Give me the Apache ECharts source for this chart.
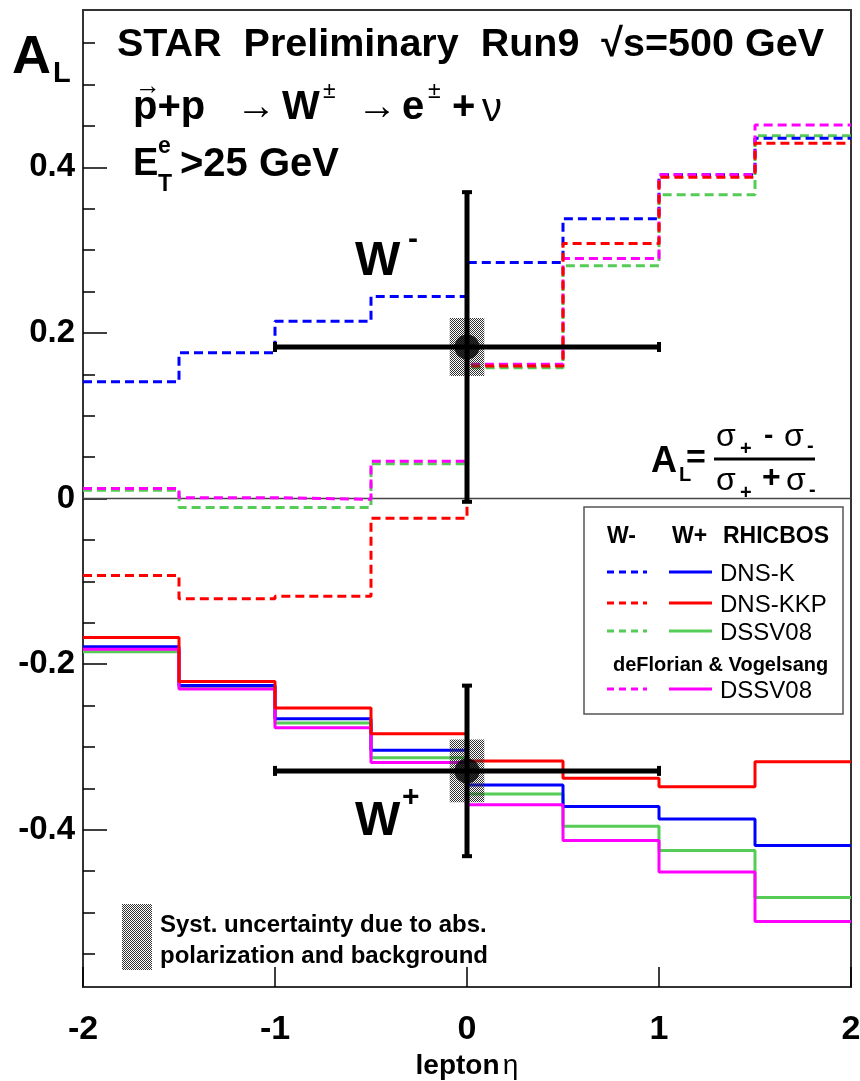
<!DOCTYPE html>
<html>
<head>
<meta charset="utf-8">
<script src="https://cdn.jsdelivr.net/npm/echarts@6/dist/echarts.min.js"></script>
<style>
  html, body { margin: 0; padding: 0; background: #fff; }
  #main { width: 860px; height: 1081px; }
</style>
</head>
<body>
<div id="main"></div>
<script>
// lepton eta bin edges (8 bins of 0.5)
const etaEdges = [-2, -1.5, -1, -0.5, 0, 0.5, 1, 1.5, 2];

// W- predictions, RHICBOS + deFlorian&Vogelsang (dashed)
const wmDnsK   = [0.141, 0.176, 0.214, 0.244, 0.285, 0.338, 0.391, 0.435];
const wmDnsKkp = [-0.093, -0.121, -0.118, -0.024, 0.160, 0.308, 0.388, 0.429];
const wmDssv   = [0.010, -0.011, -0.011, 0.042, 0.158, 0.281, 0.367, 0.438];
const wmDssvFV = [0.012, 0.001, -0.001, 0.045, 0.162, 0.290, 0.391, 0.451];

// W+ predictions (solid)
const wpDnsK   = [-0.179, -0.226, -0.266, -0.304, -0.346, -0.372, -0.387, -0.419];
const wpDnsKkp = [-0.168, -0.221, -0.253, -0.284, -0.317, -0.338, -0.348, -0.318];
const wpDssv   = [-0.185, -0.228, -0.271, -0.313, -0.357, -0.396, -0.425, -0.482];
const wpDssvFV = [-0.182, -0.230, -0.277, -0.319, -0.370, -0.413, -0.451, -0.511];

// STAR points: W-, W+
const dataEta = [0, 0];
const dataAL  = [0.183, -0.329];
const etaErr  = [1, 1];
const statErr = [0.187, 0.103];
const sysEta  = [0.09, 0.09];
const sysErr  = [0.035, 0.038];

// axis ticks
const xTicks = [-2, -1, 0, 1, 2];
const yTicks = [-0.4, -0.2, 0, 0.2, 0.4];
const yMinor = [-0.55, -0.5, -0.45, -0.35, -0.3, -0.25, -0.15, -0.1, -0.05,
                0.05, 0.1, 0.15, 0.25, 0.3, 0.35, 0.45, 0.5, 0.55];

const BLUE = "#0000ff", RED = "#ff0000", GREEN = "#55cc55", MAG = "#ff00ff";
const F = "'Liberation Sans', Arial, Helvetica, sans-serif";

// checker pattern for the syst. boxes
const hatch = document.createElement("canvas");
hatch.width = 2;
hatch.height = 2;
const hctx = hatch.getContext("2d");
hctx.fillStyle = "#333";
hctx.fillRect(0, 0, 1, 1);
hctx.fillRect(1, 1, 1, 1);
const hatchFill = { image: hatch, repeat: "repeat" };

function steps(vals) {
  return etaEdges.map((x, i) => [x, vals[Math.min(i, vals.length - 1)]]);
}
function hist(vals, color, dashed) {
  return {
    type: "line",
    data: steps(vals),
    step: "end",
    symbol: "none",
    silent: true,
    z: 2,
    lineStyle: { color: color, width: 3, type: dashed ? [9, 5] : "solid" },
  };
}

// little text helper for the graphic layer
function txt(x, y, s, size, bold) {
  return {
    type: "text",
    x: x,
    y: y,
    z: 100,
    style: {
      text: s,
      font: (bold ? "bold " : "") + size + "px " + F,
      fill: "#000",
      textAlign: "left",
      textVerticalAlign: "middle",
      align: "left",
      verticalAlign: "middle",
    },
  };
}
function seg(x1, y1, x2, y2, color, w, dash) {
  return {
    type: "line",
    z: 100,
    shape: { x1: x1, y1: y1, x2: x2, y2: y2 },
    style: { stroke: color, lineWidth: w, lineDash: dash || null },
  };
}

var myChart = echarts.init(document.getElementById("main"));

var option = {
  animation: false,
  grid: {
    left: 83, right: 9, top: 10, bottom: 94,
    containLabel: false,
    outerBoundsMode: "none",
    show: true, borderColor: "#333", borderWidth: 2,
  },
  xAxis: {
    type: "value",
    min: -2, max: 2, interval: 1,
    axisLine: { show: true, onZero: false, lineStyle: { color: "#333", width: 2 } },
    axisTick: { inside: true, length: 20, lineStyle: { color: "#000", width: 1.5 } },
    axisLabel: {
      color: "#000", fontSize: 34, fontWeight: "bold", fontFamily: F, margin: 26,
      customValues: xTicks,
    },
    splitLine: { show: false },
    name: "{b|lepton} {n|η}",
    nameLocation: "middle",
    nameGap: 64,
    nameTextStyle: {
      rich: {
        b: { fontSize: 28, fontWeight: "bold", fontFamily: F, color: "#000" },
        n: { fontSize: 28, fontFamily: F, color: "#000" },
      },
    },
  },
  yAxis: [
    {
      type: "value",
      min: -0.59, max: 0.59,
      axisLine: { show: true, onZero: false, lineStyle: { color: "#333", width: 2 } },
      axisTick: { inside: true, length: 24, customValues: yTicks, lineStyle: { color: "#000", width: 1.5 } },
      axisLabel: {
        color: "#000", fontSize: 33, fontWeight: "bold", fontFamily: F, margin: 8,
        customValues: yTicks,
        formatter: (v) => (Math.abs(v) < 1e-9 ? "0" : String(Math.round(v * 10) / 10)),
      },
      splitLine: { show: false },
    },
    {
      type: "value",
      min: -0.59, max: 0.59,
      position: "left",
      axisLine: { show: false, onZero: false },
      axisLabel: { show: false },
      axisTick: { inside: true, length: 12, customValues: yMinor, lineStyle: { color: "#000", width: 1.5 } },
      splitLine: { show: false },
    },
  ],
  series: [
    // zero line
    {
      type: "line", data: [[-2, 0], [2, 0]], symbol: "none", silent: true, z: 1,
      lineStyle: { color: "#444", width: 1.5 },
    },
    hist(wmDssv, GREEN, true),
    hist(wmDnsK, BLUE, true),
    hist(wmDssvFV, MAG, true),
    hist(wmDnsKkp, RED, true),
    hist(wpDssv, GREEN, false),
    hist(wpDnsK, BLUE, false),
    hist(wpDssvFV, MAG, false),
    hist(wpDnsKkp, RED, false),
    // syst. boxes
    {
      type: "custom", z: 3, silent: true,
      data: dataEta.map((x, i) => [x, dataAL[i], sysEta[i], sysErr[i]]),
      renderItem: (params, api) => {
        const x = api.value(0), y = api.value(1), sx = api.value(2), sy = api.value(3);
        const p1 = api.coord([x - sx, y + sy]);
        const p2 = api.coord([x + sx, y - sy]);
        return {
          type: "rect",
          shape: { x: p1[0], y: p1[1], width: p2[0] - p1[0], height: p2[1] - p1[1] },
          style: { fill: hatchFill },
        };
      },
    },
    // stat. error bars
    {
      type: "custom", z: 4, silent: true,
      data: dataEta.map((x, i) => [x, dataAL[i], etaErr[i], statErr[i]]),
      renderItem: (params, api) => {
        const x = api.value(0), y = api.value(1), ex = api.value(2), ey = api.value(3);
        const l = api.coord([x - ex, y]), r = api.coord([x + ex, y]);
        const t = api.coord([x, y + ey]), b = api.coord([x, y - ey]);
        const st = { stroke: "#000", lineWidth: 5 };
        const cs = { stroke: "#000", lineWidth: 4 };
        const c = 5;
        return {
          type: "group",
          children: [
            { type: "line", shape: { x1: l[0], y1: l[1], x2: r[0], y2: r[1] }, style: st },
            { type: "line", shape: { x1: t[0], y1: t[1], x2: b[0], y2: b[1] }, style: st },
            { type: "line", shape: { x1: l[0], y1: l[1] - c, x2: l[0], y2: l[1] + c }, style: cs },
            { type: "line", shape: { x1: r[0], y1: r[1] - c, x2: r[0], y2: r[1] + c }, style: cs },
            { type: "line", shape: { x1: t[0] - c, y1: t[1], x2: t[0] + c, y2: t[1] }, style: cs },
            { type: "line", shape: { x1: b[0] - c, y1: b[1], x2: b[0] + c, y2: b[1] }, style: cs },
          ],
        };
      },
    },
    {
      type: "scatter", z: 5, silent: true,
      data: dataEta.map((x, i) => [x, dataAL[i]]),
      symbol: "circle", symbolSize: 25,
      itemStyle: { color: "#000" },
    },
  ],
  graphic: [
    // A_L axis title
    txt(12, 58, "A", 54, true),
    txt(53, 74, "L", 29, true),
    // header lines
    txt(117, 45, "STAR  Preliminary  Run9  √s=500 GeV", 39.5, true),
    txt(135, 87, "→", 26, true),
    txt(133, 108, "p+p", 40, true),
    txt(236, 108, "→", 40, false),
    txt(282, 108, "W", 40, true),
    txt(323, 92, "±", 23, false),
    txt(357, 108, "→", 40, false),
    txt(402, 108, "e", 40, true),
    txt(428, 92, "±", 23, false),
    txt(452, 108, "+", 40, true),
    txt(482, 110, "ν", 40, false),
    txt(133, 165, "E", 38, true),
    txt(158, 147, "e", 23, true),
    txt(158, 185, "T", 23, true),
    txt(180, 165, ">25 GeV", 40, true),
    // W labels
    txt(355, 262, "W", 48, true),
    txt(408, 240, "-", 30, true),
    txt(355, 822, "W", 48, true),
    txt(402, 798, "+", 30, true),
    // asymmetry definition
    txt(651, 462, "A", 36, true),
    txt(679, 475, "L", 20, true),
    txt(686, 459, "=", 34, true),
    seg(714, 459, 815, 459, "#000", 3),
    txt(716, 437, "σ", 32, false),
    txt(740, 449, "+", 20, true),
    txt(764, 436, "-", 28, true),
    txt(784, 437, "σ", 32, false),
    txt(807, 446, "-", 20, true),
    txt(716, 481, "σ", 32, false),
    txt(740, 493, "+", 20, true),
    txt(762, 478, "+", 32, true),
    txt(786, 481, "σ", 32, false),
    txt(809, 490, "-", 20, true),
    // legend box
    {
      type: "rect", z: 99,
      shape: { x: 584, y: 507, width: 259, height: 207 },
      style: { fill: "#fff", stroke: "#555", lineWidth: 1.5 },
    },
    txt(607, 537, "W-", 23, true),
    txt(672, 537, "W+", 23, true),
    txt(723, 537, "RHICBOS", 23, true),
    seg(607, 572, 647, 572, BLUE, 3, [7, 5]),
    seg(669, 572, 712, 572, BLUE, 3),
    txt(720, 574, "DNS-K", 24, false),
    seg(607, 603, 647, 603, RED, 3, [7, 5]),
    seg(669, 603, 712, 603, RED, 3),
    txt(720, 605, "DNS-KKP", 24, false),
    seg(607, 631, 647, 631, GREEN, 3, [7, 5]),
    seg(669, 631, 712, 631, GREEN, 3),
    txt(720, 633, "DSSV08", 24, false),
    txt(613, 665, "deFlorian & Vogelsang", 20, true),
    seg(607, 689, 647, 689, MAG, 3, [7, 5]),
    seg(669, 689, 712, 689, MAG, 3),
    txt(720, 691, "DSSV08", 24, false),
    // syst. legend
    {
      type: "rect", z: 99,
      shape: { x: 122, y: 904, width: 30, height: 66 },
      style: { fill: hatchFill },
    },
    txt(160, 925, "Syst. uncertainty due to abs.", 24, true),
    txt(160, 956, "polarization and background", 24, true),
  ],
};

myChart.setOption(option);
</script>
</body>
</html>
